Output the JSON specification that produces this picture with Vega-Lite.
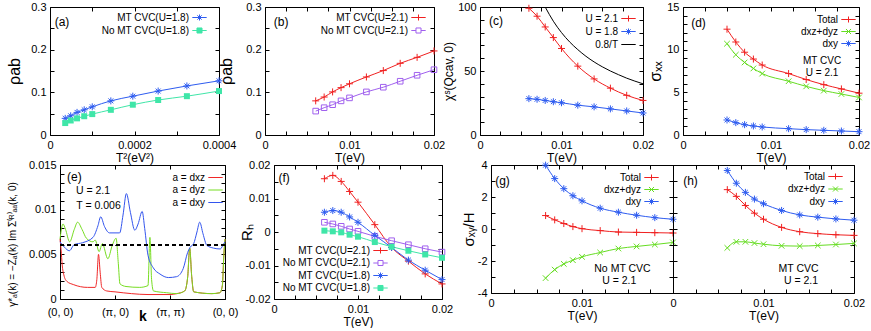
{
"$schema": "https://vega.github.io/schema/vega-lite/v6.json",
"padding": {"left": 5, "top": 0, "right": 0, "bottom": 0},
"config": {
  "font": "Liberation Sans",
  "view": {"stroke": "#000", "strokeWidth": 1},
  "axis": {"domain": false, "grid": false, "tickColor": "#000", "tickSize": -4, "tickWidth": 1, "labelPadding": 8, "labelFontSize": 11, "labelColor": "#000", "titleColor": "#000", "titleFontWeight": "normal", "titleFontSize": 12, "titlePadding": 2, "labelFlush": false, "labelOverlap": false, "labelBound": false},
  "legend": {"orient": "none", "labelFontSize": 10, "labelColor": "#000", "labelAlign": "right", "labelOffset": -17, "symbolSize": 144, "symbolStrokeWidth": 1, "rowPadding": 1, "padding": 0, "labelLimit": 300},
  "point": {"opacity": 1, "strokeWidth": 1, "size": 49, "filled": false},
  "text": {"color": "#000"}
},
"resolve": {"scale": {"color": "independent"}},
"spacing": -6,
"vconcat": [
 {"hconcat": [
  {"width": 169, "height": 128,
   "data": {"values": [
    {"s":"MT CVC(U=1.8)","x":0.000036,"y":0.039},{"s":"MT CVC(U=1.8)","x":0.000049,"y":0.045},{"s":"MT CVC(U=1.8)","x":0.000064,"y":0.053},{"s":"MT CVC(U=1.8)","x":0.000081,"y":0.059},{"s":"MT CVC(U=1.8)","x":0.0001,"y":0.066},{"s":"MT CVC(U=1.8)","x":0.000144,"y":0.080},{"s":"MT CVC(U=1.8)","x":0.000196,"y":0.091},{"s":"MT CVC(U=1.8)","x":0.000256,"y":0.103},{"s":"MT CVC(U=1.8)","x":0.000324,"y":0.115},{"s":"MT CVC(U=1.8)","x":0.0004,"y":0.127},
    {"s":"No MT CVC(U=1.8)","x":0.000036,"y":0.028},{"s":"No MT CVC(U=1.8)","x":0.000049,"y":0.034},{"s":"No MT CVC(U=1.8)","x":0.000064,"y":0.039},{"s":"No MT CVC(U=1.8)","x":0.000081,"y":0.044},{"s":"No MT CVC(U=1.8)","x":0.0001,"y":0.049},{"s":"No MT CVC(U=1.8)","x":0.000144,"y":0.059},{"s":"No MT CVC(U=1.8)","x":0.000196,"y":0.071},{"s":"No MT CVC(U=1.8)","x":0.000256,"y":0.082},{"s":"No MT CVC(U=1.8)","x":0.000324,"y":0.091},{"s":"No MT CVC(U=1.8)","x":0.0004,"y":0.103}
   ]},
   "layer": [
    {"mark": {"type": "line", "interpolate": "monotone", "strokeWidth": 1},
     "encoding": {
      "x": {"field": "x", "type": "quantitative", "scale": {"domain": [0, 0.0004], "nice": false, "zero": false},
            "axis": {"title": "T²(eV²)", "values": [0,0.0001,0.0002,0.0003,0.0004], "format": ".4~f", "labelExpr": "abs(datum.value*5000-round(datum.value*5000)) < 0.000001 ? datum.label : ''"}},
      "y": {"field": "y", "type": "quantitative", "scale": {"domain": [0, 0.3], "nice": false, "zero": false},
            "axis": {"title": "ρab", "titleFontSize": 16, "titleX": -28, "values": [0,0.05,0.1,0.15,0.2,0.25,0.3], "format": ".2~f", "labelExpr": "abs(datum.value*10-round(datum.value*10)) < 0.000001 ? datum.label : ''"}},
      "color": {"field": "s", "type": "nominal", "scale": {"domain": ["MT CVC(U=1.8)","No MT CVC(U=1.8)"], "range": ["#2e5cf0","#3fe6a8"]},
            "legend": {"title": null, "legendX": 143, "legendY": 4, "encode": {"symbols": {"update": {
              "shape": {"signal": "datum.value == 'MT CVC(U=1.8)' ? 'M-1.2,0H1.2M0,-0.5V0.5M-0.36,-0.36L0.36,0.36M-0.36,0.36L0.36,-0.36' : 'M-1.2,0H-0.42M0.42,0H1.2M-0.42,-0.42H0.42V0.42H-0.42Z'"},
              "fill": {"signal": "datum.value == 'MT CVC(U=1.8)' ? 'transparent' : '#3fe6a8'"}}}}}}
     }},
    {"transform": [{"filter": "datum.s == 'MT CVC(U=1.8)'"}],
     "mark": {"type": "point", "shape": "M-1,0H1M0,-1V1M-0.7,-0.7L0.7,0.7M-0.7,0.7L0.7,-0.7", "color": "#2e5cf0"},
     "encoding": {"x": {"field": "x", "type": "quantitative", "axis": null}, "y": {"field": "y", "type": "quantitative", "axis": null}}},
    {"transform": [{"filter": "datum.s == 'No MT CVC(U=1.8)'"}],
     "mark": {"type": "point", "shape": "square", "filled": true, "size": 36, "color": "#3fe6a8"},
     "encoding": {"x": {"field": "x", "type": "quantitative", "axis": null}, "y": {"field": "y", "type": "quantitative", "axis": null}}},
    {"data": {"values": [{"t": "(a)", "x": 0.0000284, "y": 0.265}]},
     "mark": {"type": "text", "fontSize": 12, "align": "center"},
     "encoding": {
      "x": {"field": "x", "type": "quantitative", "axis": {"orient": "top", "labels": false, "title": null, "values": [0,0.0001,0.0002,0.0003,0.0004]}},
      "y": {"field": "y", "type": "quantitative", "axis": {"orient": "right", "labels": false, "title": null, "values": [0,0.05,0.1,0.15,0.2,0.25,0.3]}},
      "text": {"field": "t"}}}
   ],
   "resolve": {"axis": {"x": "independent", "y": "independent"}}
  },
  {"width": 169, "height": 128,
   "data": {"values": [
    {"s":"MT CVC(U=2.1)","x":0.006,"y":0.080},{"s":"MT CVC(U=2.1)","x":0.007,"y":0.089},{"s":"MT CVC(U=2.1)","x":0.008,"y":0.101},{"s":"MT CVC(U=2.1)","x":0.009,"y":0.111},{"s":"MT CVC(U=2.1)","x":0.010,"y":0.120},{"s":"MT CVC(U=2.1)","x":0.012,"y":0.136},{"s":"MT CVC(U=2.1)","x":0.014,"y":0.151},{"s":"MT CVC(U=2.1)","x":0.016,"y":0.168},{"s":"MT CVC(U=2.1)","x":0.018,"y":0.182},{"s":"MT CVC(U=2.1)","x":0.020,"y":0.197},
    {"s":"No MT CVC(U=2.1)","x":0.006,"y":0.056},{"s":"No MT CVC(U=2.1)","x":0.007,"y":0.064},{"s":"No MT CVC(U=2.1)","x":0.008,"y":0.071},{"s":"No MT CVC(U=2.1)","x":0.009,"y":0.080},{"s":"No MT CVC(U=2.1)","x":0.010,"y":0.087},{"s":"No MT CVC(U=2.1)","x":0.012,"y":0.101},{"s":"No MT CVC(U=2.1)","x":0.014,"y":0.112},{"s":"No MT CVC(U=2.1)","x":0.016,"y":0.126},{"s":"No MT CVC(U=2.1)","x":0.018,"y":0.140},{"s":"No MT CVC(U=2.1)","x":0.020,"y":0.153}
   ]},
   "layer": [
    {"mark": {"type": "line", "interpolate": "monotone", "strokeWidth": 1},
     "encoding": {
      "x": {"field": "x", "type": "quantitative", "scale": {"domain": [0, 0.02], "nice": false, "zero": false},
            "axis": {"title": "T(eV)", "values": [0,0.0025,0.005,0.0075,0.01,0.0125,0.015,0.0175,0.02], "format": ".4~f", "labelExpr": "abs(datum.value*100-round(datum.value*100)) < 0.000001 ? datum.label : ''"}},
      "y": {"field": "y", "type": "quantitative", "scale": {"domain": [0, 0.3], "nice": false, "zero": false},
            "axis": {"title": "ρab", "titleFontSize": 16, "titleX": -31, "values": [0,0.05,0.1,0.15,0.2,0.25,0.3], "format": ".2~f", "labelExpr": "abs(datum.value*10-round(datum.value*10)) < 0.000001 ? datum.label : ''"}},
      "color": {"field": "s", "type": "nominal", "scale": {"domain": ["MT CVC(U=2.1)","No MT CVC(U=2.1)"], "range": ["#f02020","#a060ee"]},
            "legend": {"title": null, "legendX": 147, "legendY": 4, "encode": {"symbols": {"update": {
              "shape": {"signal": "datum.value == 'MT CVC(U=2.1)' ? 'M-1.2,0H1.2M0,-0.5V0.5' : 'M-1.2,0H-0.42M0.42,0H1.2M-0.42,-0.42H0.42V0.42H-0.42Z'"},
              "fill": {"value": "transparent"}}}}}}
     }},
    {"transform": [{"filter": "datum.s == 'MT CVC(U=2.1)'"}],
     "mark": {"type": "point", "shape": "M-1,0H1M0,-1V1", "color": "#f02020"},
     "encoding": {"x": {"field": "x", "type": "quantitative", "axis": null}, "y": {"field": "y", "type": "quantitative", "axis": null}}},
    {"transform": [{"filter": "datum.s == 'No MT CVC(U=2.1)'"}],
     "mark": {"type": "point", "shape": "M-0.8,-0.8H0.8V0.8H-0.8Z", "color": "#a060ee"},
     "encoding": {"x": {"field": "x", "type": "quantitative", "axis": null}, "y": {"field": "y", "type": "quantitative", "axis": null}}},
    {"data": {"values": [{"t": "(b)", "x": 0.0019, "y": 0.265}]},
     "mark": {"type": "text", "fontSize": 12, "align": "center"},
     "encoding": {
      "x": {"field": "x", "type": "quantitative", "axis": {"orient": "top", "labels": false, "title": null, "values": [0,0.0025,0.005,0.0075,0.01,0.0125,0.015,0.0175,0.02]}},
      "y": {"field": "y", "type": "quantitative", "axis": {"orient": "right", "labels": false, "title": null, "values": [0,0.05,0.1,0.15,0.2,0.25,0.3]}},
      "text": {"field": "t"}}}
   ],
   "resolve": {"axis": {"x": "independent", "y": "independent"}}
  },
  {"hconcat": [
   {"width": 163, "height": 128,
    "data": {"values": [
     {"s":"U = 2.1","x":0.006,"y":99},{"s":"U = 2.1","x":0.007,"y":92.8},{"s":"U = 2.1","x":0.008,"y":84.4},{"s":"U = 2.1","x":0.009,"y":76.1},{"s":"U = 2.1","x":0.010,"y":67.6},{"s":"U = 2.1","x":0.012,"y":53.8},{"s":"U = 2.1","x":0.014,"y":43.8},{"s":"U = 2.1","x":0.016,"y":36.6},{"s":"U = 2.1","x":0.018,"y":31.0},{"s":"U = 2.1","x":0.020,"y":27.0},
     {"s":"U = 1.8","x":0.006,"y":28.4},{"s":"U = 1.8","x":0.007,"y":27.9},{"s":"U = 1.8","x":0.008,"y":27.0},{"s":"U = 1.8","x":0.009,"y":26.0},{"s":"U = 1.8","x":0.010,"y":25.2},{"s":"U = 1.8","x":0.012,"y":23.3},{"s":"U = 1.8","x":0.014,"y":22.0},{"s":"U = 1.8","x":0.016,"y":20.4},{"s":"U = 1.8","x":0.018,"y":18.8},{"s":"U = 1.8","x":0.020,"y":17.2},
     {"s":"0.8/T","x":0.008,"y":100},{"s":"0.8/T","x":0.009,"y":88.9},{"s":"0.8/T","x":0.010,"y":80},{"s":"0.8/T","x":0.011,"y":72.7},{"s":"0.8/T","x":0.012,"y":66.7},{"s":"0.8/T","x":0.013,"y":61.5},{"s":"0.8/T","x":0.014,"y":57.1},{"s":"0.8/T","x":0.015,"y":53.3},{"s":"0.8/T","x":0.016,"y":50},{"s":"0.8/T","x":0.017,"y":47.1},{"s":"0.8/T","x":0.018,"y":44.4},{"s":"0.8/T","x":0.019,"y":42.1},{"s":"0.8/T","x":0.020,"y":40}
    ]},
    "layer": [
     {"mark": {"type": "line", "interpolate": "monotone", "strokeWidth": 1},
      "encoding": {
       "x": {"field": "x", "type": "quantitative", "scale": {"domain": [0, 0.02], "nice": false, "zero": false},
             "axis": {"title": "T(eV)", "values": [0,0.0025,0.005,0.0075,0.01,0.0125,0.015,0.0175,0.02], "format": ".4~f", "labelExpr": "abs(datum.value*100-round(datum.value*100)) < 0.000001 ? datum.label : ''"}},
       "y": {"field": "y", "type": "quantitative", "scale": {"domain": [0, 100], "nice": false, "zero": false},
             "axis": {"title": "χˢ(Qcav, 0)", "titleFontSize": 12, "titleX": -25, "values": [0,10,20,30,40,50,60,70,80,90,100], "labelExpr": "datum.value % 50 == 0 ? datum.label : ''"}},
       "color": {"field": "s", "type": "nominal", "scale": {"domain": ["U = 2.1","U = 1.8","0.8/T"], "range": ["#f02020","#2e5cf0","#000000"]},
             "legend": {"title": null, "legendX": 142, "legendY": 5, "encode": {"symbols": {"update": {
               "shape": {"signal": "datum.value == 'U = 2.1' ? 'M-1.2,0H1.2M0,-0.5V0.5' : datum.value == 'U = 1.8' ? 'M-1.2,0H1.2M0,-0.5V0.5M-0.36,-0.36L0.36,0.36M-0.36,0.36L0.36,-0.36' : 'M-1.2,0H1.2'"},
               "fill": {"value": "transparent"}}}}}}
      }},
     {"transform": [{"filter": "datum.s == 'U = 2.1'"}],
      "mark": {"type": "point", "shape": "M-1,0H1M0,-1V1", "color": "#f02020"},
      "encoding": {"x": {"field": "x", "type": "quantitative", "axis": null}, "y": {"field": "y", "type": "quantitative", "axis": null}}},
     {"transform": [{"filter": "datum.s == 'U = 1.8'"}],
      "mark": {"type": "point", "shape": "M-1,0H1M0,-1V1M-0.7,-0.7L0.7,0.7M-0.7,0.7L0.7,-0.7", "color": "#2e5cf0"},
      "encoding": {"x": {"field": "x", "type": "quantitative", "axis": null}, "y": {"field": "y", "type": "quantitative", "axis": null}}},
     {"data": {"values": [{"t": "(c)", "x": 0.00196, "y": 89}]},
      "mark": {"type": "text", "fontSize": 12, "align": "center"},
      "encoding": {
       "x": {"field": "x", "type": "quantitative", "axis": {"orient": "top", "labels": false, "title": null, "values": [0,0.0025,0.005,0.0075,0.01,0.0125,0.015,0.0175,0.02]}},
       "y": {"field": "y", "type": "quantitative", "axis": {"orient": "right", "labels": false, "title": null, "values": [0,10,20,30,40,50,60,70,80,90,100]}},
       "text": {"field": "t"}}}
    ],
    "resolve": {"axis": {"x": "independent", "y": "independent"}}
   },
   {"width": 176, "height": 128,
    "data": {"values": [
     {"s":"Total","x":0.005,"y":12.4},{"s":"Total","x":0.006,"y":10.9},{"s":"Total","x":0.007,"y":9.7},{"s":"Total","x":0.008,"y":8.9},{"s":"Total","x":0.009,"y":8.2},{"s":"Total","x":0.012,"y":7.2},{"s":"Total","x":0.014,"y":6.5},{"s":"Total","x":0.016,"y":5.9},{"s":"Total","x":0.018,"y":5.4},{"s":"Total","x":0.020,"y":4.9},
     {"s":"dxz+dyz","x":0.005,"y":10.7},{"s":"dxz+dyz","x":0.006,"y":9.4},{"s":"dxz+dyz","x":0.007,"y":8.5},{"s":"dxz+dyz","x":0.008,"y":7.8},{"s":"dxz+dyz","x":0.009,"y":7.2},{"s":"dxz+dyz","x":0.012,"y":6.3},{"s":"dxz+dyz","x":0.014,"y":5.7},{"s":"dxz+dyz","x":0.016,"y":5.2},{"s":"dxz+dyz","x":0.018,"y":4.8},{"s":"dxz+dyz","x":0.020,"y":4.4},
     {"s":"dxy","x":0.005,"y":1.76},{"s":"dxy","x":0.006,"y":1.45},{"s":"dxy","x":0.007,"y":1.21},{"s":"dxy","x":0.008,"y":1.06},{"s":"dxy","x":0.009,"y":0.94},{"s":"dxy","x":0.012,"y":0.74},{"s":"dxy","x":0.014,"y":0.63},{"s":"dxy","x":0.016,"y":0.55},{"s":"dxy","x":0.018,"y":0.47},{"s":"dxy","x":0.020,"y":0.39}
    ]},
    "layer": [
     {"mark": {"type": "line", "interpolate": "monotone", "strokeWidth": 1},
      "encoding": {
       "x": {"field": "x", "type": "quantitative", "scale": {"domain": [0, 0.02], "nice": false, "zero": false},
             "axis": {"title": "T(eV)", "values": [0,0.0025,0.005,0.0075,0.01,0.0125,0.015,0.0175,0.02], "format": ".4~f", "labelExpr": "abs(datum.value*100-round(datum.value*100)) < 0.000001 ? datum.label : ''"}},
       "y": {"field": "y", "type": "quantitative", "scale": {"domain": [0, 15], "nice": false, "zero": false},
             "axis": {"title": "σₓₓ", "titleFontSize": 16, "titleX": -20, "values": [0,1,2,3,4,5,6,7,8,9,10,11,12,13,14,15], "labelExpr": "datum.value % 5 == 0 ? datum.label : ''"}},
       "color": {"field": "s", "type": "nominal", "scale": {"domain": ["Total","dxz+dyz","dxy"], "range": ["#f02020","#66dd22","#2e5cf0"]},
             "legend": {"title": null, "legendX": 159, "legendY": 6, "rowPadding": 0, "encode": {"symbols": {"update": {
               "shape": {"signal": "datum.value == 'Total' ? 'M-1.2,0H1.2M0,-0.5V0.5' : datum.value == 'dxy' ? 'M-1.2,0H1.2M0,-0.5V0.5M-0.36,-0.36L0.36,0.36M-0.36,0.36L0.36,-0.36' : 'M-1.2,0H1.2M-0.42,-0.42L0.42,0.42M-0.42,0.42L0.42,-0.42'"},
               "fill": {"value": "transparent"}}}}}}
      }},
     {"transform": [{"filter": "datum.s == 'Total'"}],
      "mark": {"type": "point", "shape": "M-1,0H1M0,-1V1", "color": "#f02020"},
      "encoding": {"x": {"field": "x", "type": "quantitative", "axis": null}, "y": {"field": "y", "type": "quantitative", "axis": null}}},
     {"transform": [{"filter": "datum.s == 'dxz+dyz'"}],
      "mark": {"type": "point", "shape": "M-0.8,-0.8L0.8,0.8M-0.8,0.8L0.8,-0.8", "color": "#66dd22"},
      "encoding": {"x": {"field": "x", "type": "quantitative", "axis": null}, "y": {"field": "y", "type": "quantitative", "axis": null}}},
     {"transform": [{"filter": "datum.s == 'dxy'"}],
      "mark": {"type": "point", "shape": "M-1,0H1M0,-1V1M-0.7,-0.7L0.7,0.7M-0.7,0.7L0.7,-0.7", "color": "#2e5cf0"},
      "encoding": {"x": {"field": "x", "type": "quantitative", "axis": null}, "y": {"field": "y", "type": "quantitative", "axis": null}}},
     {"data": {"values": [{"t": "(d)", "x": 0.00176, "y": 13.07}]},
      "mark": {"type": "text", "fontSize": 12, "align": "center"},
      "encoding": {
       "x": {"field": "x", "type": "quantitative", "axis": {"orient": "top", "labels": false, "title": null, "values": [0,0.0025,0.005,0.0075,0.01,0.0125,0.015,0.0175,0.02]}},
       "y": {"field": "y", "type": "quantitative", "axis": {"orient": "right", "labels": false, "title": null, "values": [0,1,2,3,4,5,6,7,8,9,10,11,12,13,14,15]}},
       "text": {"field": "t"}}},
     {"data": {"values": [{"t": "MT CVC", "x": 0.0158, "y": 8.67}, {"t": "U = 2.1", "x": 0.0158, "y": 7.3}]},
      "mark": {"type": "text", "fontSize": 10, "align": "center"},
      "encoding": {
       "x": {"field": "x", "type": "quantitative", "axis": null},
       "y": {"field": "y", "type": "quantitative", "axis": null},
       "text": {"field": "t"}}}
    ],
    "resolve": {"axis": {"x": "independent", "y": "independent"}}
   }
  ], "spacing": 40, "bounds": "flush", "resolve": {"scale": {"color": "independent"}}}
 ], "spacing": 46, "bounds": "flush", "resolve": {"scale": {"color": "independent"}}},
 {"hconcat": [
  {"width": 10, "height": 10, "data": {"values": []}, "mark": {"type": "point", "opacity": 0}, "view": {"stroke": null}},
  {"hconcat": [
  {"width": 165, "height": 134,
   "data": {"values": [
    {"s":"a = dxz","x":0,"y":0.0067},{"s":"a = dxz","x":0.02,"y":0.0055},{"s":"a = dxz","x":0.04,"y":0.0038},{"s":"a = dxz","x":0.07,"y":0.0027},{"s":"a = dxz","x":0.12,"y":0.0020},{"s":"a = dxz","x":0.25,"y":0.0016},{"s":"a = dxz","x":0.5,"y":0.0013},{"s":"a = dxz","x":0.64,"y":0.0013},{"s":"a = dxz","x":0.67,"y":0.0022},{"s":"a = dxz","x":0.70,"y":0.0050},{"s":"a = dxz","x":0.73,"y":0.0030},{"s":"a = dxz","x":0.76,"y":0.0013},{"s":"a = dxz","x":0.85,"y":0.0009},{"s":"a = dxz","x":1.0,"y":0.0008},{"s":"a = dxz","x":1.3,"y":0.0006},{"s":"a = dxz","x":1.6,"y":0.0005},{"s":"a = dxz","x":2.0,"y":0.0005},{"s":"a = dxz","x":2.12,"y":0.0006},{"s":"a = dxz","x":2.267,"y":0.0009},{"s":"a = dxz","x":2.322,"y":0.0025},{"s":"a = dxz","x":2.358,"y":0.0057},{"s":"a = dxz","x":2.395,"y":0.0025},{"s":"a = dxz","x":2.431,"y":0.0008},{"s":"a = dxz","x":2.76,"y":0.0006},{"s":"a = dxz","x":2.907,"y":0.0007},{"s":"a = dxz","x":2.952,"y":0.0015},{"s":"a = dxz","x":2.98,"y":0.0050},{"s":"a = dxz","x":3.0,"y":0.0067},
    {"s":"a = dyz","x":0,"y":0.0067},{"s":"a = dyz","x":0.055,"y":0.0084},{"s":"a = dyz","x":0.1,"y":0.0078},{"s":"a = dyz","x":0.175,"y":0.0064},{"s":"a = dyz","x":0.26,"y":0.0078},{"s":"a = dyz","x":0.32,"y":0.0086},{"s":"a = dyz","x":0.40,"y":0.0078},{"s":"a = dyz","x":0.48,"y":0.0068},{"s":"a = dyz","x":0.6,"y":0.0064},{"s":"a = dyz","x":0.64,"y":0.0066},{"s":"a = dyz","x":0.71,"y":0.0053},{"s":"a = dyz","x":0.77,"y":0.0062},{"s":"a = dyz","x":0.87,"y":0.0045},{"s":"a = dyz","x":0.95,"y":0.0060},{"s":"a = dyz","x":1.02,"y":0.0068},{"s":"a = dyz","x":1.06,"y":0.0040},{"s":"a = dyz","x":1.09,"y":0.0017},{"s":"a = dyz","x":1.2,"y":0.0014},{"s":"a = dyz","x":1.45,"y":0.0013},{"s":"a = dyz","x":1.6,"y":0.0015},{"s":"a = dyz","x":1.635,"y":0.0069},{"s":"a = dyz","x":1.665,"y":0.0022},{"s":"a = dyz","x":1.7,"y":0.0009},{"s":"a = dyz","x":1.94,"y":0.0007},{"s":"a = dyz","x":2.12,"y":0.0006},{"s":"a = dyz","x":2.267,"y":0.0009},{"s":"a = dyz","x":2.322,"y":0.0025},{"s":"a = dyz","x":2.358,"y":0.0057},{"s":"a = dyz","x":2.395,"y":0.0025},{"s":"a = dyz","x":2.431,"y":0.0008},{"s":"a = dyz","x":2.76,"y":0.0006},{"s":"a = dyz","x":2.907,"y":0.0007},{"s":"a = dyz","x":2.952,"y":0.0015},{"s":"a = dyz","x":2.98,"y":0.0050},{"s":"a = dyz","x":3.0,"y":0.0067},
    {"s":"a = dxy","x":0,"y":0.0064},{"s":"a = dxy","x":0.08,"y":0.0058},{"s":"a = dxy","x":0.17,"y":0.0054},{"s":"a = dxy","x":0.26,"y":0.0061},{"s":"a = dxy","x":0.41,"y":0.0063},{"s":"a = dxy","x":0.6,"y":0.0069},{"s":"a = dxy","x":0.69,"y":0.0082},{"s":"a = dxy","x":0.74,"y":0.0092},{"s":"a = dxy","x":0.81,"y":0.0081},{"s":"a = dxy","x":0.9,"y":0.0074},{"s":"a = dxy","x":1.085,"y":0.0074},{"s":"a = dxy","x":1.146,"y":0.0094},{"s":"a = dxy","x":1.207,"y":0.0118},{"s":"a = dxy","x":1.28,"y":0.0097},{"s":"a = dxy","x":1.36,"y":0.0077},{"s":"a = dxy","x":1.42,"y":0.0084},{"s":"a = dxy","x":1.494,"y":0.0098},{"s":"a = dxy","x":1.54,"y":0.0079},{"s":"a = dxy","x":1.6,"y":0.0049},{"s":"a = dxy","x":1.695,"y":0.0035},{"s":"a = dxy","x":1.817,"y":0.0028},{"s":"a = dxy","x":1.97,"y":0.0024},{"s":"a = dxy","x":2.12,"y":0.0025},{"s":"a = dxy","x":2.24,"y":0.0034},{"s":"a = dxy","x":2.32,"y":0.0052},{"s":"a = dxy","x":2.366,"y":0.0058},{"s":"a = dxy","x":2.43,"y":0.0062},{"s":"a = dxy","x":2.49,"y":0.0075},{"s":"a = dxy","x":2.54,"y":0.0086},{"s":"a = dxy","x":2.6,"y":0.0073},{"s":"a = dxy","x":2.67,"y":0.0060},{"s":"a = dxy","x":2.79,"y":0.0057},{"s":"a = dxy","x":2.915,"y":0.0056},{"s":"a = dxy","x":2.976,"y":0.0062},{"s":"a = dxy","x":3.0,"y":0.0064}
   ]},
   "layer": [
    {"mark": {"type": "line", "interpolate": "monotone", "strokeWidth": 1},
     "encoding": {
      "x": {"field": "x", "type": "quantitative", "scale": {"domain": [0, 3], "nice": false, "zero": false},
            "axis": {"title": "k", "titleFontWeight": "bold", "titleFontSize": 14, "titleY": 10, "labelPadding": 11, "values": [0,1,2,3], "labelExpr": "['(0, 0)','(π, 0)','(π, π)','(0, 0)'][datum.value]"}},
      "y": {"field": "y", "type": "quantitative", "scale": {"domain": [0, 0.015], "nice": false, "zero": false},
            "axis": {"title": "γ*ₐ(k) = −Zₐ(k) Im Σ⁽ᴿ⁾ₐₐ(k, 0)", "titleFontSize": 10, "titleX": -43, "titleY": 79, "values": [0,0.001,0.002,0.003,0.004,0.005,0.006,0.007,0.008,0.009,0.01,0.011,0.012,0.013,0.014,0.015], "format": ".3~f", "labelExpr": "abs(datum.value*200-round(datum.value*200)) < 0.000001 ? datum.label : ''"}},
      "color": {"field": "s", "type": "nominal", "scale": {"domain": ["a = dxz","a = dyz","a = dxy"], "range": ["#f02828","#77dd22","#3355ee"]},
            "legend": {"title": null, "legendX": 149, "legendY": 6, "rowPadding": 0.5, "symbolType": "M-1.2,0H1.2"}}
     }},
    {"mark": {"type": "rule", "strokeDash": [4, 3], "color": "#000", "strokeWidth": 1},
     "encoding": {"y": {"datum": 0.006, "type": "quantitative", "axis": null}}},
    {"data": {"values": [{"t": "(e)", "x": 0.26, "y": 0.01366}]},
     "mark": {"type": "text", "fontSize": 12, "align": "center"},
     "encoding": {
      "x": {"field": "x", "type": "quantitative", "axis": {"orient": "top", "labels": false, "title": null, "values": [0,1,2,3]}},
      "y": {"field": "y", "type": "quantitative", "axis": {"orient": "right", "labels": false, "title": null, "values": [0,0.001,0.002,0.003,0.004,0.005,0.006,0.007,0.008,0.009,0.01,0.011,0.012,0.013,0.014,0.015]}},
      "text": {"field": "t"}}},
    {"data": {"values": [{"t": "U = 2.1", "x": 0.6, "y": 0.0121}, {"t": "T = 0.006", "x": 0.70, "y": 0.0104}]},
     "mark": {"type": "text", "fontSize": 10.5, "align": "center"},
     "encoding": {
      "x": {"field": "x", "type": "quantitative", "axis": null},
      "y": {"field": "y", "type": "quantitative", "axis": null},
      "text": {"field": "t"}}}
   ],
   "resolve": {"axis": {"x": "independent", "y": "independent"}}
  },
  {"width": 168, "height": 134,
   "data": {"values": [
    {"s":"MT CVC(U=2.1)","x":0.006,"y":0.0159},{"s":"MT CVC(U=2.1)","x":0.007,"y":0.0169},{"s":"MT CVC(U=2.1)","x":0.008,"y":0.0151},{"s":"MT CVC(U=2.1)","x":0.009,"y":0.0121},{"s":"MT CVC(U=2.1)","x":0.010,"y":0.0089},{"s":"MT CVC(U=2.1)","x":0.012,"y":0.0022},{"s":"MT CVC(U=2.1)","x":0.014,"y":-0.0046},{"s":"MT CVC(U=2.1)","x":0.016,"y":-0.0087},{"s":"MT CVC(U=2.1)","x":0.018,"y":-0.0125},{"s":"MT CVC(U=2.1)","x":0.020,"y":-0.0155},
    {"s":"No MT CVC(U=2.1)","x":0.006,"y":0.0029},{"s":"No MT CVC(U=2.1)","x":0.007,"y":0.0024},{"s":"No MT CVC(U=2.1)","x":0.008,"y":0.0017},{"s":"No MT CVC(U=2.1)","x":0.009,"y":0.0009},{"s":"No MT CVC(U=2.1)","x":0.010,"y":0.0002},{"s":"No MT CVC(U=2.1)","x":0.012,"y":-0.0013},{"s":"No MT CVC(U=2.1)","x":0.014,"y":-0.0026},{"s":"No MT CVC(U=2.1)","x":0.016,"y":-0.0038},{"s":"No MT CVC(U=2.1)","x":0.018,"y":-0.0050},{"s":"No MT CVC(U=2.1)","x":0.020,"y":-0.0060},
    {"s":"MT CVC(U=1.8)","x":0.006,"y":0.0059},{"s":"MT CVC(U=1.8)","x":0.007,"y":0.0064},{"s":"MT CVC(U=1.8)","x":0.008,"y":0.0059},{"s":"MT CVC(U=1.8)","x":0.009,"y":0.0045},{"s":"MT CVC(U=1.8)","x":0.010,"y":0.0029},{"s":"MT CVC(U=1.8)","x":0.012,"y":-0.0010},{"s":"MT CVC(U=1.8)","x":0.014,"y":-0.0046},{"s":"MT CVC(U=1.8)","x":0.016,"y":-0.0084},{"s":"MT CVC(U=1.8)","x":0.018,"y":-0.0114},{"s":"MT CVC(U=1.8)","x":0.020,"y":-0.0142},
    {"s":"No MT CVC(U=1.8)","x":0.006,"y":0.0004},{"s":"No MT CVC(U=1.8)","x":0.007,"y":0.0002},{"s":"No MT CVC(U=1.8)","x":0.008,"y":-0.0001},{"s":"No MT CVC(U=1.8)","x":0.009,"y":-0.0008},{"s":"No MT CVC(U=1.8)","x":0.010,"y":-0.0014},{"s":"No MT CVC(U=1.8)","x":0.012,"y":-0.0030},{"s":"No MT CVC(U=1.8)","x":0.014,"y":-0.0044},{"s":"No MT CVC(U=1.8)","x":0.016,"y":-0.0056},{"s":"No MT CVC(U=1.8)","x":0.018,"y":-0.0067},{"s":"No MT CVC(U=1.8)","x":0.020,"y":-0.0077}
   ]},
   "layer": [
    {"mark": {"type": "line", "interpolate": "monotone", "strokeWidth": 1},
     "encoding": {
      "x": {"field": "x", "type": "quantitative", "scale": {"domain": [0, 0.02], "nice": false, "zero": false},
            "axis": {"title": "T(eV)", "values": [0,0.0025,0.005,0.0075,0.01,0.0125,0.015,0.0175,0.02], "format": ".4~f", "labelExpr": "abs(datum.value*100-round(datum.value*100)) < 0.000001 ? datum.label : ''"}},
      "y": {"field": "y", "type": "quantitative", "scale": {"domain": [-0.02, 0.02], "nice": false, "zero": false},
            "axis": {"title": "Rₕ", "titleFontSize": 15, "titleX": -20, "values": [-0.02,-0.015,-0.01,-0.005,0,0.005,0.01,0.015,0.02], "format": ".3~f", "labelExpr": "abs(datum.value*100-round(datum.value*100)) < 0.000001 ? replace(datum.label, '−', '-') : ''"}},
      "color": {"field": "s", "type": "nominal", "scale": {"domain": ["MT CVC(U=2.1)","No MT CVC(U=2.1)","MT CVC(U=1.8)","No MT CVC(U=1.8)"], "range": ["#f02020","#a060ee","#2e5cf0","#3fe6a8"]},
            "legend": {"title": null, "legendX": 100, "legendY": 79, "rowPadding": 0.5, "encode": {"symbols": {"update": {
              "shape": {"signal": "datum.value == 'MT CVC(U=2.1)' ? 'M-1.2,0H1.2M0,-0.5V0.5' : datum.value == 'MT CVC(U=1.8)' ? 'M-1.2,0H1.2M0,-0.5V0.5M-0.36,-0.36L0.36,0.36M-0.36,0.36L0.36,-0.36' : 'M-1.2,0H-0.42M0.42,0H1.2M-0.42,-0.42H0.42V0.42H-0.42Z'"},
              "fill": {"signal": "datum.value == 'No MT CVC(U=1.8)' ? '#3fe6a8' : 'transparent'"}}}}}}
     }},
    {"transform": [{"filter": "datum.s == 'MT CVC(U=2.1)'"}],
     "mark": {"type": "point", "shape": "M-1,0H1M0,-1V1", "color": "#f02020"},
     "encoding": {"x": {"field": "x", "type": "quantitative", "axis": null}, "y": {"field": "y", "type": "quantitative", "axis": null}}},
    {"transform": [{"filter": "datum.s == 'No MT CVC(U=2.1)'"}],
     "mark": {"type": "point", "shape": "M-0.8,-0.8H0.8V0.8H-0.8Z", "color": "#a060ee"},
     "encoding": {"x": {"field": "x", "type": "quantitative", "axis": null}, "y": {"field": "y", "type": "quantitative", "axis": null}}},
    {"transform": [{"filter": "datum.s == 'MT CVC(U=1.8)'"}],
     "mark": {"type": "point", "shape": "M-1,0H1M0,-1V1M-0.7,-0.7L0.7,0.7M-0.7,0.7L0.7,-0.7", "color": "#2e5cf0"},
     "encoding": {"x": {"field": "x", "type": "quantitative", "axis": null}, "y": {"field": "y", "type": "quantitative", "axis": null}}},
    {"transform": [{"filter": "datum.s == 'No MT CVC(U=1.8)'"}],
     "mark": {"type": "point", "shape": "square", "filled": true, "size": 36, "color": "#3fe6a8"},
     "encoding": {"x": {"field": "x", "type": "quantitative", "axis": null}, "y": {"field": "y", "type": "quantitative", "axis": null}}},
    {"data": {"values": [{"t": "(f)", "x": 0.0012, "y": 0.016}]},
     "mark": {"type": "text", "fontSize": 12, "align": "center"},
     "encoding": {
      "x": {"field": "x", "type": "quantitative", "axis": {"orient": "top", "labels": false, "title": null, "values": [0,0.0025,0.005,0.0075,0.01,0.0125,0.015,0.0175,0.02]}},
      "y": {"field": "y", "type": "quantitative", "axis": {"orient": "right", "labels": false, "title": null, "values": [-0.02,-0.015,-0.01,-0.005,0,0.005,0.01,0.015,0.02]}},
      "text": {"field": "t"}}}
   ],
   "resolve": {"axis": {"x": "independent", "y": "independent"}}
  },
  {"hconcat": [
   {"width": 182, "height": 128,
    "data": {"values": [
     {"s":"Total","x":0.006,"y":0.84},{"s":"Total","x":0.007,"y":0.57},{"s":"Total","x":0.008,"y":0.34},{"s":"Total","x":0.009,"y":0.15},{"s":"Total","x":0.010,"y":0.02},{"s":"Total","x":0.012,"y":-0.10},{"s":"Total","x":0.014,"y":-0.19},{"s":"Total","x":0.016,"y":-0.21},{"s":"Total","x":0.018,"y":-0.23},{"s":"Total","x":0.020,"y":-0.25},
     {"s":"dxz+dyz","x":0.006,"y":-3.07},{"s":"dxz+dyz","x":0.007,"y":-2.54},{"s":"dxz+dyz","x":0.008,"y":-2.18},{"s":"dxz+dyz","x":0.009,"y":-1.95},{"s":"dxz+dyz","x":0.010,"y":-1.74},{"s":"dxz+dyz","x":0.012,"y":-1.47},{"s":"dxz+dyz","x":0.014,"y":-1.22},{"s":"dxz+dyz","x":0.016,"y":-1.09},{"s":"dxz+dyz","x":0.018,"y":-0.97},{"s":"dxz+dyz","x":0.020,"y":-0.84},
     {"s":"dxy","x":0.006,"y":3.99},{"s":"dxy","x":0.007,"y":3.15},{"s":"dxy","x":0.008,"y":2.52},{"s":"dxy","x":0.009,"y":2.08},{"s":"dxy","x":0.010,"y":1.76},{"s":"dxy","x":0.012,"y":1.30},{"s":"dxy","x":0.014,"y":1.05},{"s":"dxy","x":0.016,"y":0.86},{"s":"dxy","x":0.018,"y":0.71},{"s":"dxy","x":0.020,"y":0.61}
    ]},
    "layer": [
     {"mark": {"type": "line", "interpolate": "monotone", "strokeWidth": 1},
      "encoding": {
       "x": {"field": "x", "type": "quantitative", "scale": {"domain": [0, 0.02], "nice": false, "zero": false},
             "axis": {"title": "T(eV)", "values": [0,0.0025,0.005,0.0075,0.01,0.0125,0.015,0.0175,0.02], "format": ".4~f", "labelExpr": "abs(datum.value*100-round(datum.value*100)) < 0.000001 && datum.value < 0.015 ? datum.label : ''"}},
       "y": {"field": "y", "type": "quantitative", "scale": {"domain": [-4, 4], "nice": false, "zero": false},
             "axis": {"title": "σₓᵧ/H", "titleFontSize": 15, "titleX": -15, "values": [-4,-3,-2,-1,0,1,2,3,4], "labelExpr": "datum.value % 2 == 0 ? replace(datum.label, '−', '-') : ''"}},
       "color": {"field": "s", "type": "nominal", "scale": {"domain": ["Total","dxz+dyz","dxy"], "range": ["#f02020","#66dd22","#2e5cf0"]},
             "legend": {"title": null, "legendX": 154, "legendY": 6, "rowPadding": 0, "encode": {"symbols": {"update": {
               "shape": {"signal": "datum.value == 'Total' ? 'M-1.2,0H1.2M0,-0.5V0.5' : datum.value == 'dxy' ? 'M-1.2,0H1.2M0,-0.5V0.5M-0.36,-0.36L0.36,0.36M-0.36,0.36L0.36,-0.36' : 'M-1.2,0H1.2M-0.42,-0.42L0.42,0.42M-0.42,0.42L0.42,-0.42'"},
               "fill": {"value": "transparent"}}}}}}
      }},
     {"transform": [{"filter": "datum.s == 'Total'"}],
      "mark": {"type": "point", "shape": "M-1,0H1M0,-1V1", "color": "#f02020"},
      "encoding": {"x": {"field": "x", "type": "quantitative", "axis": null}, "y": {"field": "y", "type": "quantitative", "axis": null}}},
     {"transform": [{"filter": "datum.s == 'dxz+dyz'"}],
      "mark": {"type": "point", "shape": "M-0.8,-0.8L0.8,0.8M-0.8,0.8L0.8,-0.8", "color": "#66dd22"},
      "encoding": {"x": {"field": "x", "type": "quantitative", "axis": null}, "y": {"field": "y", "type": "quantitative", "axis": null}}},
     {"transform": [{"filter": "datum.s == 'dxy'"}],
      "mark": {"type": "point", "shape": "M-1,0H1M0,-1V1M-0.7,-0.7L0.7,0.7M-0.7,0.7L0.7,-0.7", "color": "#2e5cf0"},
      "encoding": {"x": {"field": "x", "type": "quantitative", "axis": null}, "y": {"field": "y", "type": "quantitative", "axis": null}}},
     {"data": {"values": [{"t": "(g)", "x": 0.00126, "y": 2.97}]},
      "mark": {"type": "text", "fontSize": 12, "align": "center"},
      "encoding": {
       "x": {"field": "x", "type": "quantitative", "axis": {"orient": "top", "labels": false, "title": null, "values": [0,0.0025,0.005,0.0075,0.01,0.0125,0.015,0.0175,0.02]}},
       "y": {"field": "y", "type": "quantitative", "axis": {"orient": "right", "labels": false, "title": null, "values": [-4,-3,-2,-1,0,1,2,3,4]}},
       "text": {"field": "t"}}},
     {"data": {"values": [{"t": "No MT CVC", "x": 0.01445, "y": -2.47}, {"t": "U = 2.1", "x": 0.0141, "y": -3.28}]},
      "mark": {"type": "text", "fontSize": 10.5, "align": "center"},
      "encoding": {
       "x": {"field": "x", "type": "quantitative", "axis": null},
       "y": {"field": "y", "type": "quantitative", "axis": null},
       "text": {"field": "t"}}}
    ],
    "resolve": {"axis": {"x": "independent", "y": "independent"}}
   },
   {"width": 181, "height": 128,
    "data": {"values": [
     {"s":"Total","x":0.006,"y":2.46},{"s":"Total","x":0.007,"y":2.04},{"s":"Total","x":0.008,"y":1.47},{"s":"Total","x":0.009,"y":0.99},{"s":"Total","x":0.010,"y":0.61},{"s":"Total","x":0.012,"y":0.10},{"s":"Total","x":0.014,"y":-0.17},{"s":"Total","x":0.016,"y":-0.29},{"s":"Total","x":0.018,"y":-0.36},{"s":"Total","x":0.020,"y":-0.40},
     {"s":"dxz+dyz","x":0.006,"y":-1.18},{"s":"dxz+dyz","x":0.007,"y":-0.80},{"s":"dxz+dyz","x":0.008,"y":-0.80},{"s":"dxz+dyz","x":0.009,"y":-0.88},{"s":"dxz+dyz","x":0.010,"y":-0.95},{"s":"dxz+dyz","x":0.012,"y":-1.05},{"s":"dxz+dyz","x":0.014,"y":-1.07},{"s":"dxz+dyz","x":0.016,"y":-1.03},{"s":"dxz+dyz","x":0.018,"y":-0.97},{"s":"dxz+dyz","x":0.020,"y":-0.90},
     {"s":"dxy","x":0.006,"y":3.66},{"s":"dxy","x":0.007,"y":2.86},{"s":"dxy","x":0.008,"y":2.29},{"s":"dxy","x":0.009,"y":1.87},{"s":"dxy","x":0.010,"y":1.58},{"s":"dxy","x":0.012,"y":1.16},{"s":"dxy","x":0.014,"y":0.88},{"s":"dxy","x":0.016,"y":0.74},{"s":"dxy","x":0.018,"y":0.63},{"s":"dxy","x":0.020,"y":0.55}
    ]},
    "layer": [
     {"mark": {"type": "line", "interpolate": "monotone", "strokeWidth": 1},
      "encoding": {
       "x": {"field": "x", "type": "quantitative", "scale": {"domain": [0, 0.02], "nice": false, "zero": false},
             "axis": {"title": "T(eV)", "values": [0,0.0025,0.005,0.0075,0.01,0.0125,0.015,0.0175,0.02], "format": ".4~f", "labelExpr": "abs(datum.value*100-round(datum.value*100)) < 0.000001 ? datum.label : ''"}},
       "y": {"field": "y", "type": "quantitative", "scale": {"domain": [-4, 4], "nice": false, "zero": false},
             "axis": {"title": null, "labels": false, "values": [-4,-3,-2,-1,0,1,2,3,4]}},
       "color": {"field": "s", "type": "nominal", "scale": {"domain": ["Total","dxz+dyz","dxy"], "range": ["#f02020","#66dd22","#2e5cf0"]},
             "legend": {"title": null, "legendX": 156, "legendY": 5, "rowPadding": 0.5, "encode": {"symbols": {"update": {
               "shape": {"signal": "datum.value == 'Total' ? 'M-1.2,0H1.2M0,-0.5V0.5' : datum.value == 'dxy' ? 'M-1.2,0H1.2M0,-0.5V0.5M-0.36,-0.36L0.36,0.36M-0.36,0.36L0.36,-0.36' : 'M-1.2,0H1.2M-0.42,-0.42L0.42,0.42M-0.42,0.42L0.42,-0.42'"},
               "fill": {"value": "transparent"}}}}}}
      }},
     {"transform": [{"filter": "datum.s == 'Total'"}],
      "mark": {"type": "point", "shape": "M-1,0H1M0,-1V1", "color": "#f02020"},
      "encoding": {"x": {"field": "x", "type": "quantitative", "axis": null}, "y": {"field": "y", "type": "quantitative", "axis": null}}},
     {"transform": [{"filter": "datum.s == 'dxz+dyz'"}],
      "mark": {"type": "point", "shape": "M-0.8,-0.8L0.8,0.8M-0.8,0.8L0.8,-0.8", "color": "#66dd22"},
      "encoding": {"x": {"field": "x", "type": "quantitative", "axis": null}, "y": {"field": "y", "type": "quantitative", "axis": null}}},
     {"transform": [{"filter": "datum.s == 'dxy'"}],
      "mark": {"type": "point", "shape": "M-1,0H1M0,-1V1M-0.7,-0.7L0.7,0.7M-0.7,0.7L0.7,-0.7", "color": "#2e5cf0"},
      "encoding": {"x": {"field": "x", "type": "quantitative", "axis": null}, "y": {"field": "y", "type": "quantitative", "axis": null}}},
     {"data": {"values": [{"t": "(h)", "x": 0.00193, "y": 2.97}]},
      "mark": {"type": "text", "fontSize": 12, "align": "center"},
      "encoding": {
       "x": {"field": "x", "type": "quantitative", "axis": {"orient": "top", "labels": false, "title": null, "values": [0,0.0025,0.005,0.0075,0.01,0.0125,0.015,0.0175,0.02]}},
       "y": {"field": "y", "type": "quantitative", "axis": {"orient": "right", "labels": false, "title": null, "values": [-4,-3,-2,-1,0,1,2,3,4]}},
       "text": {"field": "t"}}},
     {"data": {"values": [{"t": "MT CVC", "x": 0.01387, "y": -2.47}, {"t": "U = 2.1", "x": 0.01414, "y": -3.28}]},
      "mark": {"type": "text", "fontSize": 10.5, "align": "center"},
      "encoding": {
       "x": {"field": "x", "type": "quantitative", "axis": null},
       "y": {"field": "y", "type": "quantitative", "axis": null},
       "text": {"field": "t"}}}
    ],
    "resolve": {"axis": {"x": "independent", "y": "independent"}}
   }
  ], "spacing": 0, "bounds": "flush", "resolve": {"scale": {"color": "independent"}}}
  ], "spacing": 49, "bounds": "flush", "resolve": {"scale": {"color": "independent"}}}
 ], "spacing": 0, "bounds": "flush", "resolve": {"scale": {"color": "independent"}}}
]
}
